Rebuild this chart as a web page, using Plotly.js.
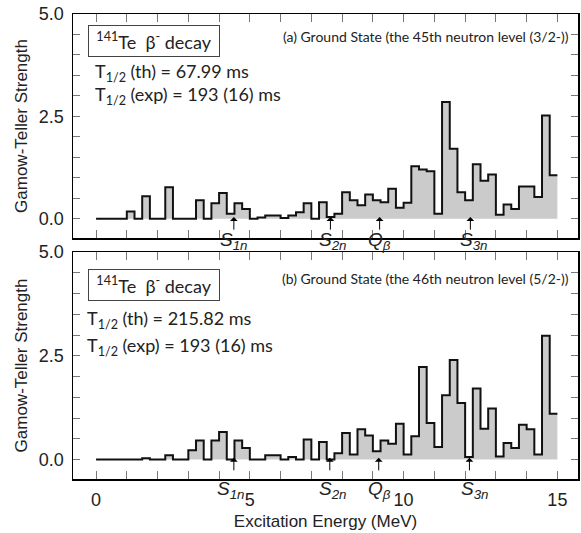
<!DOCTYPE html>
<html>
<head>
<meta charset="utf-8">
<script src="https://cdn.plot.ly/plotly-3.0.1.min.js"></script>
<style>html,body{margin:0;padding:0;background:#fff;}#chart{width:581px;height:533px;}</style>
</head>
<body>
<div id="chart"></div>
<script>
// ---- data ----
const binEdges = [0,0.25,0.5,0.75,1,1.25,1.5,1.75,2,2.25,2.5,2.75,3,3.25,3.5,3.75,4,4.25,4.5,4.75,5,5.25,5.5,5.75,6,6.25,6.5,6.75,7,7.25,7.5,7.75,8,8.25,8.5,8.75,9,9.25,9.5,9.75,10,10.25,10.5,10.75,11,11.25,11.5,11.75,12,12.25,12.5,12.75,13,13.25,13.5,13.75,14,14.25,14.5,14.75,15];
const gtStrengthA = [0,0,0,0,0.18,0,0.55,0,0,0.77,0,0,0,0.45,0,0.38,0.63,0.12,0.38,0.24,0,0.03,0.08,0.08,0.02,0.08,0.16,0.38,0,0.4,0.04,0.12,0.65,0.45,0.33,0.59,0.45,0.4,0.73,0.27,0.39,1.28,1.2,1.16,0.12,2.85,1.71,0.65,0.45,1.33,0.93,1.08,0.1,0.35,0.24,0.79,0.79,0.53,2.52,1.06];
const gtStrengthB = [0,0,0,0,0,0,0.03,0,0,0.1,0,0,0.22,0.46,0,0.46,0.66,0,0.46,0.28,0,0,0.1,0.1,0,0.06,0,0.48,0,0.42,0,0.15,0.64,0.12,0.73,0.58,0.2,0.46,0.38,0.86,0.12,0.56,2.23,0.88,0.3,1.55,2.4,1.36,0.06,1.71,0.74,1.23,0.07,0.4,0.28,0.84,0.73,0.12,2.98,1.1];
const thresholdLabels = ['<i>S<sub>1n</sub></i>','<i>S<sub>2n</sub></i>','<i>Q<sub>β</sub></i>','<i>S<sub>3n</sub></i>'];
const thresholdsA = [4.48, 7.62, 9.22, 12.17];
const thresholdsB = [4.48, 7.60, 9.19, 12.14];
const xTickVals = [0,1,2,3,4,5,6,7,8,9,10,11,12,13,14,15];
const xTickText = ['0','','','','','5','','','','','10','','','','','15'];
const yTickVals = [0,0.5,1,1.5,2,2.5,3,3.5,4,4.5,5];
const yTickText = ['0.0','','','','','2.5','','','','','5.0'];
const panelTitleA = '(a) Ground State (the 45th neutron level (3/2-))';
const panelTitleB = '(b) Ground State (the 46th neutron level (5/2-))';
const boxText = '<sup>141</sup>Te  β<sup>-</sup> decay';
const halfLifeA = ['T<sub>1/2</sub> (th) = 67.99 ms', 'T<sub>1/2</sub> (exp) = 193 (16) ms'];
const halfLifeB = ['T<sub>1/2</sub> (th) = 215.82 ms', 'T<sub>1/2</sub> (exp) = 193 (16) ms'];

// ---- page geometry helpers ----
const W = 581, H = 533, ML = 73, MR = 3, MT = 14, MB = 54;
const PW = W - ML - MR, PH = H - MT - MB;
const px = v => (v - ML) / PW;
const py = v => (H - MB - v) / PH;

function stepTrace(vals, xa, ya) {
  return {
    x: binEdges,
    y: vals.concat([vals[vals.length - 1]]),
    xaxis: xa, yaxis: ya,
    type: 'scatter', mode: 'lines',
    line: {shape: 'hv', color: '#111', width: 2},
    fill: 'tozeroy', fillcolor: '#cbcbcb',
    hoverinfo: 'skip', showlegend: false
  };
}

const data = [stepTrace(gtStrengthA, 'x2', 'y2'), stepTrace(gtStrengthB, 'x', 'y')];

const tickFont = {family: 'Liberation Sans, Arial, sans-serif', size: 18, color: '#222'};
function xAxis(extra) {
  return Object.assign({
    range: [-0.75, 15.67], tickmode: 'array', tickvals: xTickVals, ticktext: xTickText,
    ticks: 'inside', ticklen: 8, tickcolor: '#777', tickwidth: 1,
    showline: true, linecolor: '#000', linewidth: 1.5, mirror: 'ticks',
    showgrid: false, zeroline: false, tickfont: tickFont
  }, extra);
}
function yAxis(extra) {
  return Object.assign({
    range: [-0.47, 5], tickmode: 'array', tickvals: yTickVals, ticktext: yTickText,
    ticks: 'inside', ticklen: 7, tickcolor: '#777', tickwidth: 1,
    showline: true, linecolor: '#000', linewidth: 1.5, mirror: 'ticks',
    showgrid: false, zeroline: false, tickfont: tickFont, ticklabelstandoff: 4,
    title: {text: 'Gamow-Teller Strength', font: {family: 'Liberation Sans, Arial, sans-serif', size: 17, color: '#222'}, standoff: 7}
  }, extra);
}

const annFont = {family: 'Lato, sans-serif', size: 18, color: '#222'};
const annotations = [];
function panelAnn(title, lines, boxY, textX, lineYs, titleY) {
  annotations.push({xref: 'paper', yref: 'paper', x: px(153.5), y: py(boxY), xanchor: 'center', yanchor: 'middle',
    text: boxText, showarrow: false, font: annFont, bordercolor: '#444', borderwidth: 1, width: 126, height: 26, borderpad: 2});
  lines.forEach((t, i) => annotations.push({xref: 'paper', yref: 'paper', x: px(textX), y: py(lineYs[i]), xanchor: 'left', yanchor: 'middle',
    text: t, showarrow: false, font: annFont}));
  annotations.push({xref: 'paper', yref: 'paper', x: px(571), y: py(titleY), xanchor: 'right', yanchor: 'middle',
    text: title, showarrow: false, font: {family: 'Lato, sans-serif', size: 14, color: '#222'}});
}
panelAnn(panelTitleA, halfLifeA, 41.5, 93, [73, 95], 36);
panelAnn(panelTitleB, halfLifeB, 285, 85, [319, 346], 278);

const labFont = {family: 'Liberation Sans, Arial, sans-serif', size: 19, color: '#222'};
function thresholds(list, xa, ya, labelY, shifts) {
  list.forEach((e, i) => {
    annotations.push({xref: xa, yref: ya, x: e, y: 0.04, ax: 0, ay: 14, text: '', showarrow: true,
      arrowhead: 1, arrowsize: 1.3, arrowwidth: 1, arrowcolor: '#000'});
    annotations.push({xref: xa, yref: 'paper', x: e, y: py(labelY), xanchor: 'center', yanchor: 'middle', xshift: shifts[i],
      text: thresholdLabels[i], showarrow: false, font: labFont});
  });
}
thresholds(thresholdsA, 'x2', 'y2', 241, [0, 2, 0, 3]);
thresholds(thresholdsB, 'x', 'y', 490, [-3, 3, 1, 5]);

const layout = {
  width: W, height: H,
  margin: {l: ML, r: MR, t: MT, b: MB},
  paper_bgcolor: '#fff', plot_bgcolor: '#fff',
  showlegend: false,
  xaxis: xAxis({anchor: 'y', domain: [0, 1], ticklabelstandoff: 4,
    title: {text: 'Excitation Energy (MeV)', font: {family: 'Liberation Sans, Arial, sans-serif', size: 17, color: '#222'}, standoff: 6}}),
  xaxis2: xAxis({anchor: 'y2', domain: [0, 1], matches: 'x', showticklabels: false}),
  yaxis: yAxis({anchor: 'x', domain: [0, (H - MB - 252) / PH]}),
  yaxis2: yAxis({anchor: 'x2', domain: [(H - MB - 238) / PH, 1]}),
  annotations: annotations
};

Plotly.newPlot('chart', data, layout, {displayModeBar: false, staticPlot: true});
</script>
</body>
</html>
